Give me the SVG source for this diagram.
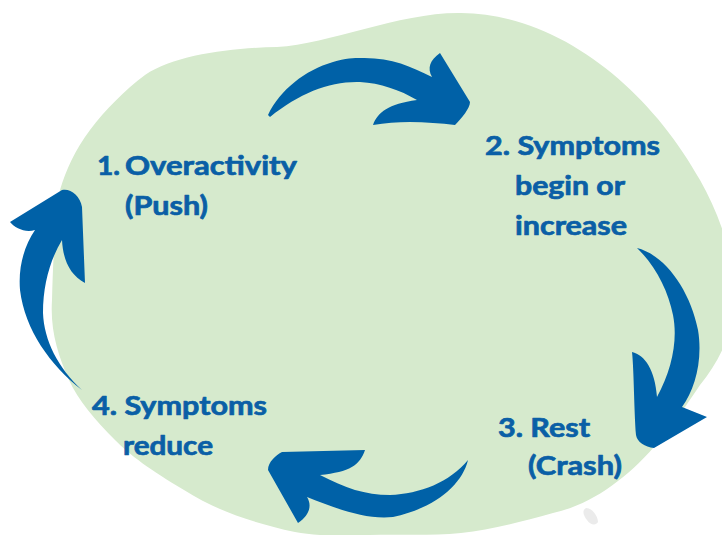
<svg xmlns="http://www.w3.org/2000/svg" width="722" height="535" viewBox="0 0 722 535">
<style>
.lbl{font-family:Lato,"Open Sans","Liberation Sans",sans-serif;font-weight:700;font-size:26px;fill:#0a5fa6;stroke:#0a5fa6;stroke-width:0.7px;stroke-linejoin:round}
.arr{fill:#0061a7}
</style>
<rect width="722" height="535" fill="#ffffff"/>
<path id="blob" fill="#d6eacd" d="M 277,47 C 330,44 400,12 461,13 C 560,14 650,90 700,180 C 720,215 735,260 735,295 C 735,330 720,360 700,385 C 680,415 665,435 654,447 C 625,480 590,505 553,513 C 520,522 490,530 461,533 C 430,536 400,534 369,535 C 340,536 315,536 295,532 C 250,522 215,510 184,490 C 150,470 130,455 115,440 C 95,420 78,400 69,380 C 58,355 50,330 52,300 C 53,260 55,220 60,190 C 66,170 75,150 90,130 C 105,110 125,90 145,75 C 175,55 230,48 277,47 Z"/>
<path fill="#ebebeb" d="M 586,508 C 592,508 598,516 598,522 C 596,526 590,525 587,520 C 583,515 582,510 586,508 Z"/>
<g id="connectors">
<path class="arr" d="M 268,115 C 280,90 305,70 333,62 C 345,58 355,58 360,58 C 390,57 410,66 432,77 C 427,68 430,60 440,53 L 470,102 C 470,108 462,118 455,125 C 430,122 400,120 373,125 C 378,112 388,104 417,100 C 400,90 380,83 360,82 C 330,81 300,93 270,117 Z"/>
<path class="arr" d="M 637,248 C 665,255 690,290 698,330 C 703,360 695,390 682,407 L 707,417 L 654,448 C 645,447 637,442 636,435 C 634,410 634,370 632,352 C 645,355 655,370 657,397 C 672,370 678,340 673,315 C 668,290 655,265 637,248 Z"/>
<path class="arr" d="M 468,460 C 462,485 435,508 393,517 C 365,520 335,508 307,497 C 312,505 310,515 298,523 L 268,470 C 268,462 276,455 282,452 L 365,450 C 360,465 350,472 320,475 C 345,488 365,495 390,495 C 420,494 450,482 468,460 Z"/>
<path class="arr" d="M 82,390 C 50,365 25,330 20,290 C 18,265 25,245 35,230 C 25,233 15,228 10,222 L 62,190 C 70,188 80,195 82,207 L 85,283 C 70,275 63,260 62,240 C 50,260 43,285 43,313 C 44,340 58,368 82,390 Z"/>
</g>
<g id="node1">
<text class="lbl" x="97" y="175" textLength="23" lengthAdjust="spacingAndGlyphs">1.</text>
<text class="lbl" x="125" y="175" textLength="172" lengthAdjust="spacingAndGlyphs">Overactivity</text>
<text class="lbl" x="125" y="215" textLength="83" lengthAdjust="spacingAndGlyphs">(Push)</text>
</g>
<g id="node2">
<text class="lbl" x="485" y="155" textLength="175" lengthAdjust="spacingAndGlyphs">2. Symptoms</text>
<text class="lbl" x="515" y="195" textLength="110" lengthAdjust="spacingAndGlyphs">begin or</text>
<text class="lbl" x="515" y="235" textLength="112" lengthAdjust="spacingAndGlyphs">increase</text>
</g>
<g id="node3">
<text class="lbl" x="498" y="437" textLength="92" lengthAdjust="spacingAndGlyphs">3. Rest</text>
<text class="lbl" x="528" y="475" textLength="94" lengthAdjust="spacingAndGlyphs">(Crash)</text>
</g>
<g id="node4">
<text class="lbl" x="92" y="415" textLength="175" lengthAdjust="spacingAndGlyphs">4. Symptoms</text>
<text class="lbl" x="123" y="455" textLength="90" lengthAdjust="spacingAndGlyphs">reduce</text>
</g>
</svg>
